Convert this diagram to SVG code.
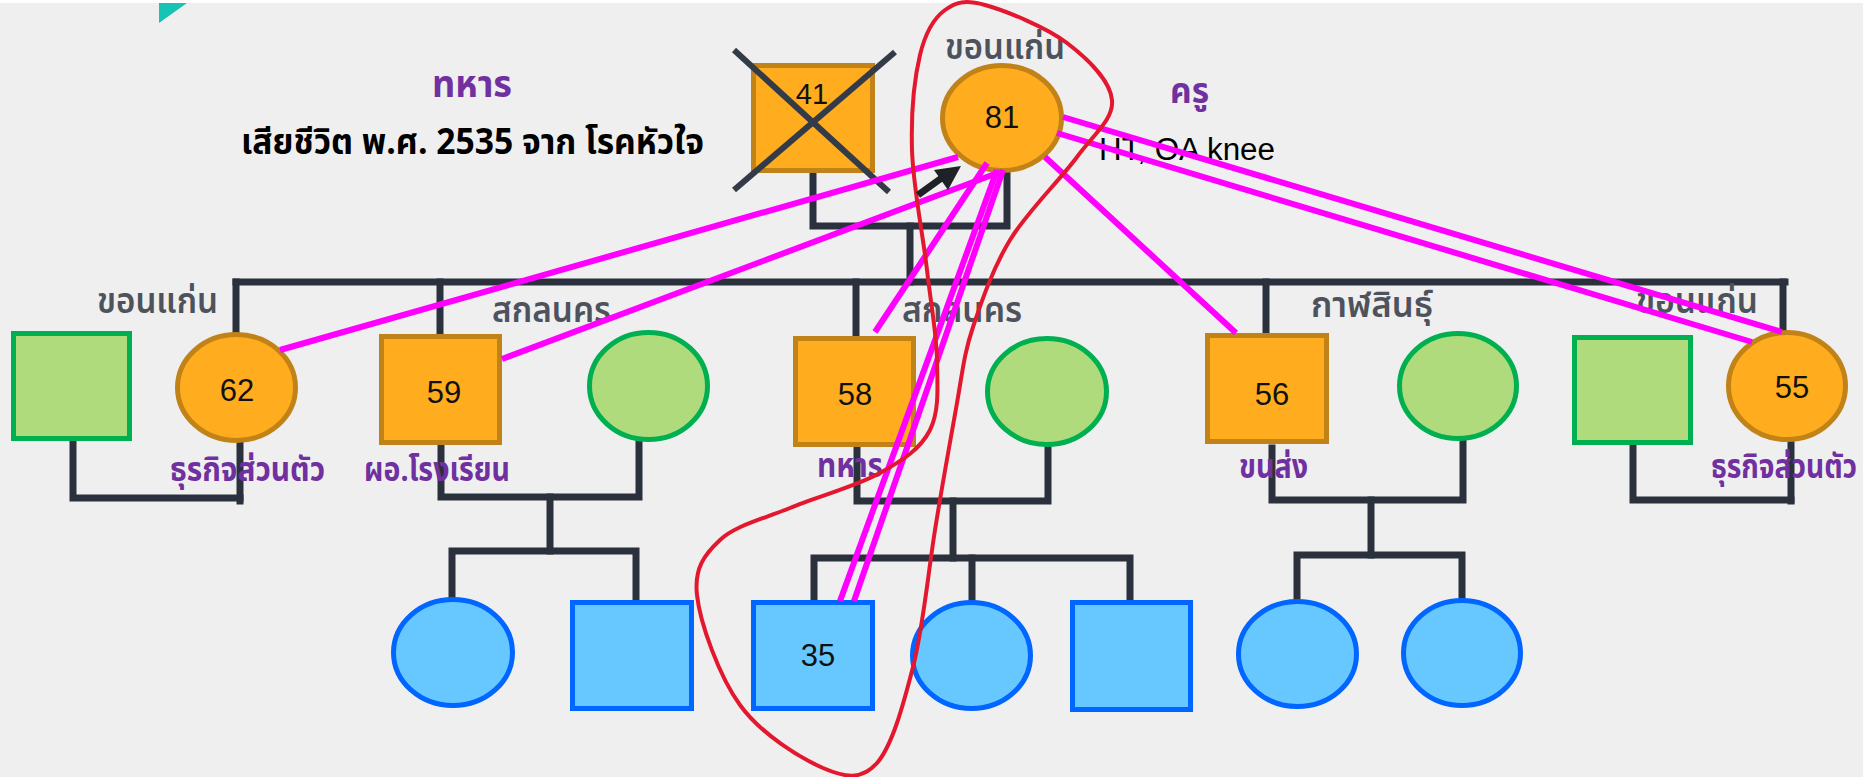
<svg xmlns="http://www.w3.org/2000/svg" width="1870" height="777" viewBox="0 0 1870 777">
<defs>
<style>
.bg{fill:#efefef}
.link{fill:none;stroke:#2a303c;stroke-width:7;stroke-linecap:square;stroke-linejoin:miter}
.idx{fill:#ffac1e;stroke:#c18318;stroke-width:5}
.sp{fill:#afdb7c;stroke:#00b050;stroke-width:5}
.ch{fill:#66c8ff;stroke:#0066ff;stroke-width:5}
.num{font-family:"Liberation Sans","Noto Sans",sans-serif;font-size:31px;fill:#111;text-anchor:middle}
.th{font-family:"Noto Sans Thai","Noto Sans","DejaVu Sans",sans-serif}
.gray{fill:#4d525c;font-size:35px;font-weight:600}
.pur{fill:#7030a0;font-size:33px;font-weight:700}
.blk{fill:#000;font-weight:700}
.mag{stroke:#ff00ff;stroke-width:6;fill:none}
.red{stroke:#e3172e;stroke-width:4;fill:none}
.cross{stroke:#333b48;stroke-width:6}
</style>
</defs>
<rect x="0" y="0" width="1870" height="777" fill="#ffffff"/>
<rect class="bg" x="0" y="3" width="1863" height="774"/>
<polygon points="159,3 187,3 159,23" fill="#17c3b2"/>

<g id="connectors">
<path class="link" d="M813,173 V226 H1007 V173"/>
<path class="link" d="M910,226 V282"/>
<path class="link" d="M236,282 H1785"/>
<path class="link" d="M236,282 V332"/>
<path class="link" d="M440,282 V334"/>
<path class="link" d="M856,282 V336"/>
<path class="link" d="M1266,282 V333"/>
<path class="link" d="M1783,282 V330"/>
<path class="link" d="M73,441 V498 H240"/>
<path class="link" d="M240,443 V501"/>
<path class="link" d="M441,445 V497 H639 V440"/>
<path class="link" d="M550,497 V551"/>
<path class="link" d="M452,597 V551 H636 V600"/>
<path class="link" d="M857,448 V501 H1048 V448"/>
<path class="link" d="M953,501 V558"/>
<path class="link" d="M814,600 V558 H1130 V600"/>
<path class="link" d="M972,558 V600"/>
<path class="link" d="M1272,448 V500 H1463 V442"/>
<path class="link" d="M1371,500 V555"/>
<path class="link" d="M1297,599 V555 H1462 V598"/>
<path class="link" d="M1633,447 V500 H1791"/>
<path class="link" d="M1791,442 V501"/>
</g>

<g id="n41">
<rect class="idx" x="753.5" y="65.5" width="119" height="105"/>
<text class="num" x="812" y="104" style="font-size:29px">41</text>
<line class="cross" x1="734" y1="50" x2="889" y2="192"/>
<line class="cross" x1="895" y1="52" x2="734" y2="190"/>
</g>
<g id="n81">
<ellipse class="idx" cx="1002" cy="118" rx="59.5" ry="52.5"/>
<text class="num" x="1002" y="128">81</text>
</g>
<g id="spL"><rect class="sp" x="13.5" y="333.5" width="116" height="105"/></g>
<g id="n62">
<ellipse class="idx" cx="236.5" cy="387.5" rx="59" ry="53"/>
<text class="num" x="237" y="401">62</text>
</g>
<g id="n59">
<rect class="idx" x="381.5" y="336.5" width="118" height="106"/>
<text class="num" x="444" y="403">59</text>
</g>
<g id="spA"><ellipse class="sp" cx="648.5" cy="386" rx="59" ry="53.5"/></g>
<g id="n58">
<rect class="idx" x="795.5" y="338.5" width="118" height="106"/>
<text class="num" x="855" y="405">58</text>
</g>
<g id="spB"><ellipse class="sp" cx="1047" cy="391.5" rx="59.5" ry="53"/></g>
<g id="n56">
<rect class="idx" x="1207.5" y="335.5" width="119" height="106"/>
<text class="num" x="1272" y="405">56</text>
</g>
<g id="spC"><ellipse class="sp" cx="1458" cy="386" rx="58.5" ry="52.5"/></g>
<g id="spR"><rect class="sp" x="1574.5" y="337.5" width="116" height="105"/></g>
<g id="n55">
<ellipse class="idx" cx="1787" cy="386" rx="58.5" ry="53.5"/>
<text class="num" x="1792" y="398">55</text>
</g>
<g id="c1"><ellipse class="ch" cx="453" cy="652.5" rx="59.5" ry="53"/></g>
<g id="c2"><rect class="ch" x="572.5" y="602.5" width="119" height="106"/></g>
<g id="n35">
<rect class="ch" x="753.5" y="602.5" width="119" height="106"/>
<text class="num" x="818" y="666">35</text>
</g>
<g id="c4"><ellipse class="ch" cx="971.5" cy="655.5" rx="59" ry="53"/></g>
<g id="c5"><rect class="ch" x="1072.5" y="602.5" width="118" height="107"/></g>
<g id="c6"><ellipse class="ch" cx="1297.5" cy="654" rx="59" ry="52.5"/></g>
<g id="c7"><ellipse class="ch" cx="1462" cy="653" rx="58.5" ry="52.5"/></g>

<g id="labels">
<text class="th pur" x="432" y="97" style="font-size:38px" textLength="80" lengthAdjust="spacingAndGlyphs">ทหาร</text>
<text class="th blk" x="241" y="154" style="font-size:36px" textLength="463" lengthAdjust="spacingAndGlyphs">เสียชีวิต พ.ศ. 2535 จาก โรคหัวใจ</text>
<text class="th gray" x="945" y="59" textLength="120" lengthAdjust="spacingAndGlyphs">ขอนแก่น</text>
<text class="th pur" x="1170" y="103" style="font-size:35px" textLength="39" lengthAdjust="spacingAndGlyphs">ครู</text>
<text x="1099" y="160" style="font-family:'Liberation Sans',sans-serif;font-size:31px" fill="#000" textLength="176" lengthAdjust="spacingAndGlyphs">HT, OA knee</text>
<text class="th gray" x="97" y="313" textLength="121" lengthAdjust="spacingAndGlyphs">ขอนแก่น</text>
<text class="th gray" x="492" y="322" textLength="119" lengthAdjust="spacingAndGlyphs">สกลนคร</text>
<text class="th gray" x="902" y="322" textLength="120" lengthAdjust="spacingAndGlyphs">สกลนคร</text>
<text class="th gray" x="1311" y="317" textLength="122" lengthAdjust="spacingAndGlyphs">กาฬสินธุ์</text>
<text class="th gray" x="1636" y="313" textLength="122" lengthAdjust="spacingAndGlyphs">ขอนแก่น</text>
<text class="th pur" x="170" y="481" textLength="155" lengthAdjust="spacingAndGlyphs">ธุรกิจส่วนตัว</text>
<text class="th pur" x="364" y="481" textLength="146" lengthAdjust="spacingAndGlyphs">ผอ.โรงเรียน</text>
<text class="th pur" x="817" y="477" textLength="66" lengthAdjust="spacingAndGlyphs">ทหาร</text>
<text class="th pur" x="1239" y="478" textLength="69" lengthAdjust="spacingAndGlyphs">ขนส่ง</text>
<text class="th pur" x="1711" y="478" textLength="146" lengthAdjust="spacingAndGlyphs">ธุรกิจส่วนตัว</text>
</g>

<g id="relations">
<line class="mag" x1="280" y1="350" x2="958" y2="157"/>
<line class="mag" x1="502" y1="359" x2="1000" y2="172"/>
<line class="mag" x1="875" y1="332" x2="987" y2="163"/>
<line class="mag" x1="840" y1="601" x2="997" y2="170"/>
<line class="mag" x1="854" y1="601" x2="1003" y2="170"/>
<line class="mag" x1="1045" y1="157" x2="1236" y2="333"/>
<line class="mag" x1="1063" y1="117" x2="1782" y2="332"/>
<line class="mag" x1="1057" y1="133" x2="1752" y2="342"/>
</g>

<g id="loop">
<path class="red" d="M985,5 C1005,10.5 1046,27 1067,43 C1088,59 1110.3,81 1112,100 C1114,119 1094,134 1077,157 C1060,180 1027,212 1010,240 C993,268 982,300 973,327 C964,354 963,369 957,403 C951,437 942,486 935,530 C928,574 923,628 913,667 C903,706 892,746 877,763 C862,780 846,778 823,768 C800,758 761,734 740,705 C719,676 700,623 697,595 C694,568 704.5,554.5 720,540 C735.5,525.5 763,519 790,508 C816.7,496.8 857,486 880,473 C903,460 920.5,449 930,430 C939.5,411 937.5,386.7 937,360 C936.5,333.3 931,305 927,270 C923,235 913,186 912,150 C911,114 914.5,78 920,55 C925.5,32 934,18 945,10 C956,2 964.7,-0.5 985,5 Z"/>
</g>

<g id="arrow">
<line x1="918" y1="195" x2="943" y2="177" stroke="#1e2227" stroke-width="7"/>
<polygon points="934,170 961,166 948,190" fill="#1e2227"/>
</g>
</svg>
